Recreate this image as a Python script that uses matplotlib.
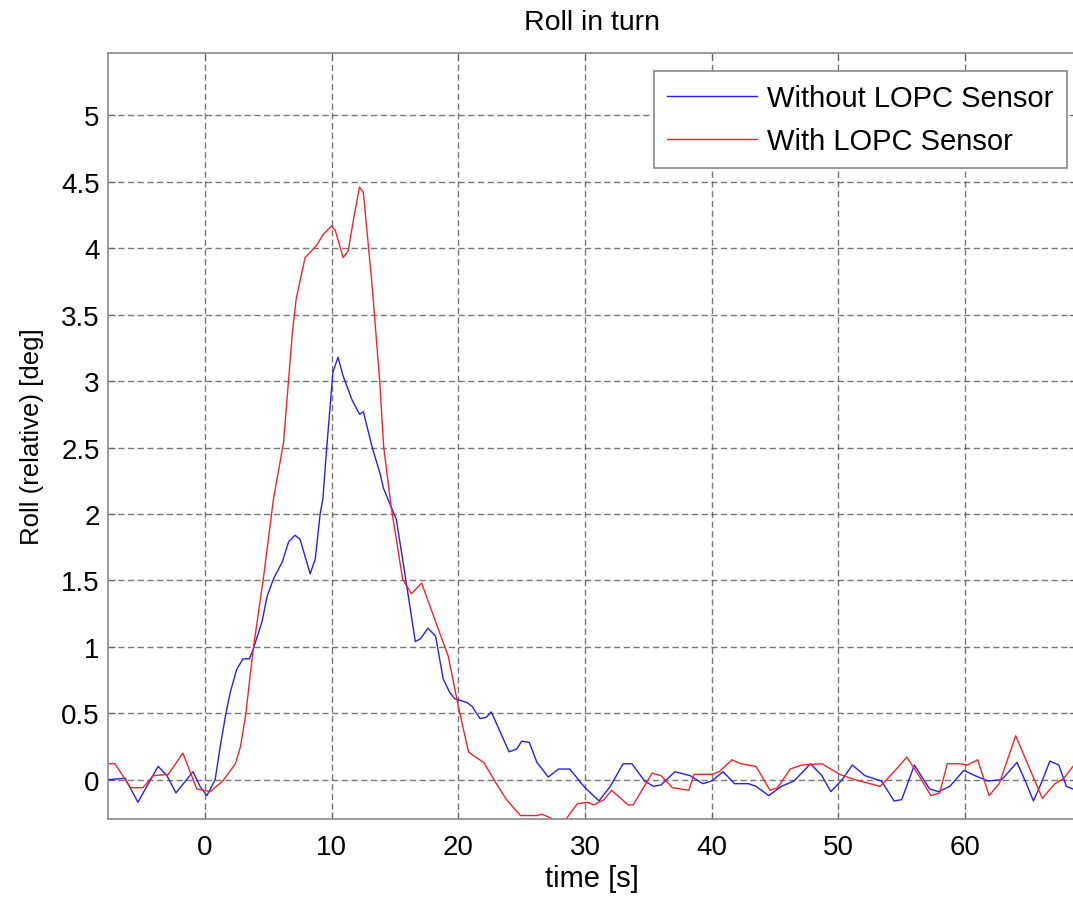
import matplotlib
matplotlib.use('Agg')
import matplotlib.pyplot as plt

plt.rcParams['font.family'] = ['Liberation Sans', 'DejaVu Sans']

# values
blue_t = [-7.65, -6.3, -5.3, -3.7, -3.0, -2.3, -0.95, -0.4, 0.15, 0.8, 1.2, 1.65, 2.0, 2.5,
          3.0, 3.5, 3.8, 4.5, 4.9, 5.4, 6.1, 6.6, 7.1, 7.5, 8.3, 8.7, 9.1, 9.3, 9.6, 10.1,
          10.5, 10.9, 11.6, 12.2, 12.5, 13.2, 13.8, 14.1, 15.1, 15.6, 16.6, 17.0, 17.6, 18.2,
          18.8, 19.3, 19.7, 20.7, 21.1, 21.7, 22.2, 22.6, 23.3, 24.0, 24.6, 25.0, 25.6, 26.2,
          27.1, 27.9, 28.8, 29.9, 31.1, 32.0, 33.0, 33.7, 34.7, 35.4, 36.0, 37.1, 38.3, 39.3,
          40.0, 40.9, 41.8, 42.9, 43.5, 44.5, 45.5, 46.5, 47.8, 48.7, 49.4, 50.3, 51.1, 52.1,
          53.4, 54.4, 55.0, 56.0, 57.2, 57.9, 58.8, 59.9, 60.8, 61.8, 62.9, 64.1, 64.8, 65.4,
          66.0, 66.7, 67.4, 68.0, 68.76]
blue_v = [0.0, 0.01, -0.17, 0.1, 0.03, -0.1, 0.06, -0.05, -0.12, 0.0, 0.25, 0.5, 0.66, 0.83,
          0.91, 0.91, 0.98, 1.19, 1.38, 1.51, 1.64, 1.79, 1.84, 1.81, 1.55, 1.66, 2.01, 2.11, 2.49, 3.07,
          3.18, 3.04, 2.86, 2.75, 2.77, 2.5, 2.31, 2.19, 1.96, 1.66, 1.04, 1.06, 1.14, 1.08,
          0.76, 0.66, 0.61, 0.58, 0.55, 0.46, 0.47, 0.51, 0.36, 0.21, 0.23, 0.29, 0.28, 0.13,
          0.02, 0.08, 0.08, -0.05, -0.16, -0.05, 0.12, 0.12, -0.01, -0.05, -0.04, 0.06, 0.03, -0.03,
          -0.01, 0.06, -0.03, -0.03, -0.05, -0.12, -0.05, -0.01, 0.12, 0.03, -0.09, 0.0, 0.11, 0.03,
          -0.01, -0.16, -0.15, 0.11, -0.07, -0.09, -0.05, 0.07, 0.03, -0.01, 0.0, 0.13, -0.02, -0.16,
          -0.03, 0.14, 0.11, -0.05, -0.08]

red_t = [-7.65, -7.1, -5.9, -4.9, -4.1, -2.9, -1.75, -0.65, 0.4, 1.4, 2.4, 2.8, 3.2, 3.8, 4.6,
         5.4, 6.2, 6.9, 7.2, 7.9, 8.8, 9.3, 10.0, 10.3, 10.9, 11.3, 11.8, 12.2, 12.5, 13.2, 13.8,
         14.1, 14.7, 15.6, 16.3, 17.1, 18.2, 19.2, 20.0, 20.8, 21.2, 22.0, 23.0, 23.8, 24.9, 26.2,
         26.6, 27.1, 27.9, 28.4, 29.4, 30.2, 30.7, 31.5, 32.1, 33.4, 33.8, 35.3, 36.0, 36.9, 38.2,
         38.6, 40.0, 40.6, 41.6, 42.3, 43.5, 44.6, 45.2, 46.2, 47.1, 48.7, 50.1, 51.3, 53.3, 54.4,
         55.4, 56.5, 57.3, 58.0, 58.6, 59.6, 60.2, 61.0, 61.9, 62.7, 64.0, 66.1, 67.1, 67.8, 68.76]
red_v = [0.12, 0.12, -0.06, -0.06, 0.03, 0.04, 0.2, -0.07, -0.09, -0.01, 0.12, 0.25, 0.48, 0.98, 1.51,
         2.11, 2.54, 3.37, 3.62, 3.93, 4.02, 4.1, 4.17, 4.13, 3.93, 3.98, 4.26, 4.46, 4.42, 3.71, 2.99,
         2.51, 2.05, 1.51, 1.40, 1.48, 1.19, 0.93, 0.55, 0.21, 0.18, 0.13, -0.03, -0.15, -0.27, -0.27,
         -0.26, -0.28, -0.32, -0.31, -0.18, -0.17, -0.19, -0.15, -0.08, -0.19, -0.19, 0.05, 0.03, -0.06, -0.08,
         0.04, 0.04, 0.06, 0.15, 0.12, 0.10, -0.08, -0.06, 0.08, 0.11, 0.12, 0.04, 0.0, -0.05, 0.06,
         0.17, 0.01, -0.12, -0.10, 0.12, 0.12, 0.11, 0.15, -0.12, -0.03, 0.33, -0.14, -0.03, 0.01, 0.13]

x_ticks = [0, 10, 20, 30, 40, 50, 60]
y_ticks = [0, 0.5, 1, 1.5, 2, 2.5, 3, 3.5, 4, 4.5, 5]
y_labels = ['0', '0.5', '1', '1.5', '2', '2.5', '3', '3.5', '4', '4.5', '5']

fig = plt.figure(figsize=(10.73, 9.03), dpi=100)
ax = fig.add_axes([108 / 1073, 1 - 820 / 903, 968 / 1073, 766 / 903])

ax.plot(blue_t, blue_v, color='#2020ff', lw=1.0, label='Without LOPC Sensor')
ax.plot(red_t, red_v, color='#ff2020', lw=1.0, label='With LOPC Sensor')

ax.set_xlim(-7.66, 68.76)
ax.set_ylim(-0.296, 5.47)
ax.set_xticks(x_ticks)
ax.set_yticks(y_ticks)
ax.set_yticklabels(y_labels)

ax.grid(True, color='#555555', ls=(0, (4.5, 2.5)), lw=1.0, alpha=0.8)
for s in ax.spines.values():
    s.set_color('#888888')
    s.set_linewidth(1.2)
ax.tick_params(direction='in', length=5, color='#666666', top=True, right=True,
               labelsize=20)
ax.tick_params(axis='x', pad=11)
ax.tick_params(axis='y', pad=6)

ax.set_title('Roll in turn', fontsize=20.5, pad=17)
ax.set_xlabel('time [s]', fontsize=21, labelpad=3)
ax.set_ylabel('Roll (relative) [deg]', fontsize=18.5, labelpad=12)

leg = ax.legend(loc='upper right', bbox_to_anchor=(0.9907, 0.9765), borderaxespad=0,
                fontsize=21, fancybox=False, framealpha=1, edgecolor='#888888',
                handlelength=3.1, handletextpad=0.35, borderpad=0.45, labelspacing=0.5)
leg.get_frame().set_linewidth(1.2)

fig.savefig('out.png', dpi=100)
